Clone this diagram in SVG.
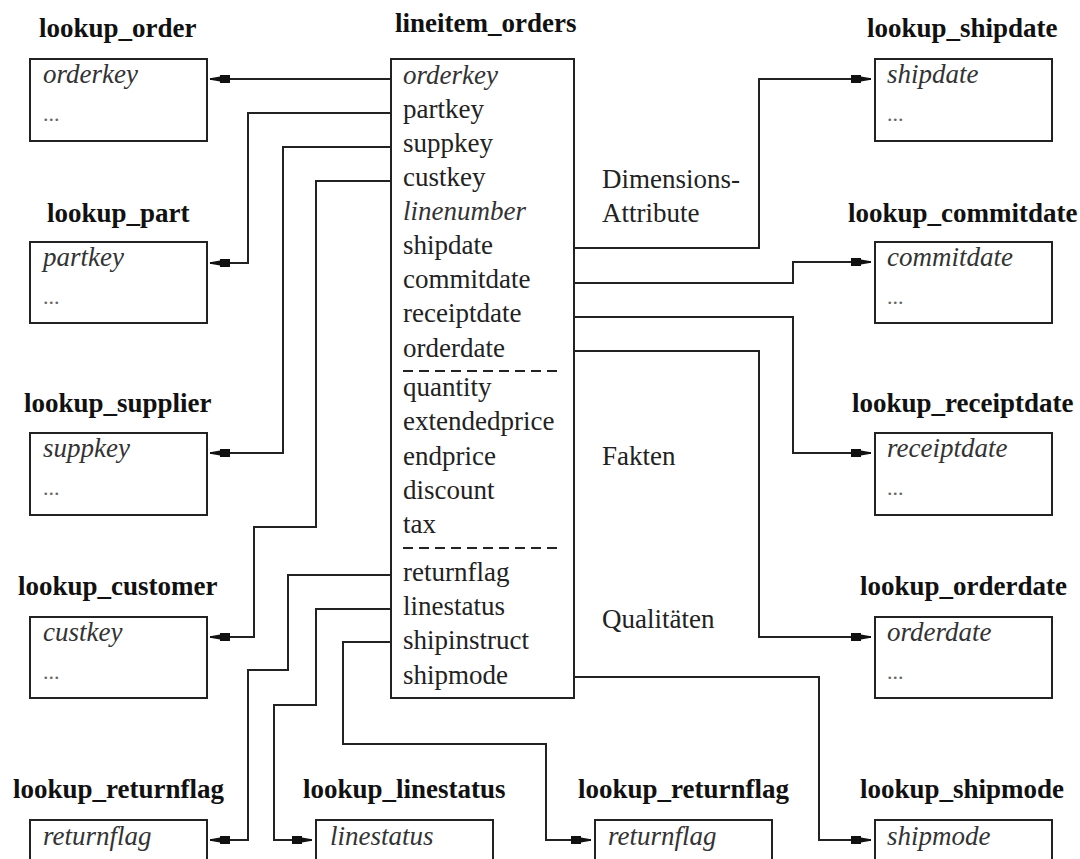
<svg xmlns="http://www.w3.org/2000/svg" width="1080" height="859" viewBox="0 0 1080 859">
<style>
.t{font-family:"Liberation Serif","Times New Roman",serif;font-size:27px;font-weight:bold;fill:#111}
.r{font-family:"Liberation Serif","Times New Roman",serif;font-size:27px;fill:#222}
.i{font-family:"Liberation Serif","Times New Roman",serif;font-size:27px;font-style:italic;fill:#333}
.d{font-family:"Liberation Serif","Times New Roman",serif;font-size:22px;fill:#666}
.box{fill:#fff;stroke:#222;stroke-width:2}
.c{fill:none;stroke:#222;stroke-width:2;marker-end:url(#ah)}
.dash{stroke:#222;stroke-width:2;stroke-dasharray:10 6}
</style>
<defs>
<marker id="ah" markerUnits="userSpaceOnUse" viewBox="-22 -6 24 12" refX="0" refY="0" markerWidth="24" markerHeight="12" orient="auto">
<path d="M-20,-4 L-10,-4 L-10,-2.5 L0,-0.8 L0,0.8 L-10,2.5 L-10,4 L-20,4 Z" fill="#111"/>
</marker>
</defs>
<rect width="1080" height="859" fill="#fff"/>

<g id="connectors">
<path class="c" d="M390,79 H210"/>
<path class="c" d="M390,113 H248 V263 H210"/>
<path class="c" d="M390,147 H283 V453 H210"/>
<path class="c" d="M390,181 H316 V527 H254 V637 H210"/>
<path class="c" d="M575,248 H759 V79 H871"/>
<path class="c" d="M575,283 H793 V262 H871"/>
<path class="c" d="M575,317 H793 V453 H871"/>
<path class="c" d="M575,351 H759 V637 H871"/>
<path class="c" d="M390,575 H288 V670 H248 V840 H210"/>
<path class="c" d="M390,609 H316 V705 H274 V840 H312"/>
<path class="c" d="M390,642 H343 V744 H546 V840 H591"/>
<path class="c" d="M575,677 H819 V840 H871"/>
</g>

<g id="lineitem_orders">
<text class="t" x="395" y="32">lineitem_orders</text>
<rect class="box" x="391" y="59" width="183" height="639"/>
<text class="i" x="403" y="84">orderkey</text>
<text class="r" x="403" y="118">partkey</text>
<text class="r" x="403" y="152">suppkey</text>
<text class="r" x="403" y="186">custkey</text>
<text class="i" x="403" y="220">linenumber</text>
<text class="r" x="403" y="254">shipdate</text>
<text class="r" x="403" y="288">commitdate</text>
<text class="r" x="403" y="322">receiptdate</text>
<text class="r" x="403" y="357">orderdate</text>
<line class="dash" x1="403" y1="371" x2="562" y2="371"/>
<text class="r" x="403" y="396">quantity</text>
<text class="r" x="403" y="430">extendedprice</text>
<text class="r" x="403" y="465">endprice</text>
<text class="r" x="403" y="499">discount</text>
<text class="r" x="403" y="533">tax</text>
<line class="dash" x1="403" y1="548" x2="562" y2="548"/>
<text class="r" x="403" y="581">returnflag</text>
<text class="r" x="403" y="615">linestatus</text>
<text class="r" x="403" y="649">shipinstruct</text>
<text class="r" x="403" y="684">shipmode</text>
</g>

<g id="labels">
<text class="r" x="602" y="188">Dimensions-</text>
<text class="r" x="602" y="222">Attribute</text>
<text class="r" x="602" y="465">Fakten</text>
<text class="r" x="602" y="628">Qualitäten</text>
</g>

<g id="lookup_order">
<text class="t" x="39" y="37">lookup_order</text>
<rect class="box" x="30" y="59" width="177" height="82"/>
<text class="i" x="43" y="83">orderkey</text>
<text class="d" x="43" y="121">...</text>
</g>
<g id="lookup_part">
<text class="t" x="47" y="222">lookup_part</text>
<rect class="box" x="30" y="242" width="177" height="81"/>
<text class="i" x="43" y="266">partkey</text>
<text class="d" x="43" y="304">...</text>
</g>
<g id="lookup_supplier">
<text class="t" x="24" y="412">lookup_supplier</text>
<rect class="box" x="30" y="433" width="177" height="82"/>
<text class="i" x="43" y="457">suppkey</text>
<text class="d" x="43" y="495">...</text>
</g>
<g id="lookup_customer">
<text class="t" x="18" y="595">lookup_customer</text>
<rect class="box" x="30" y="617" width="177" height="81"/>
<text class="i" x="43" y="641">custkey</text>
<text class="d" x="43" y="679">...</text>
</g>
<g id="lookup_returnflag_1">
<text class="t" x="13" y="798">lookup_returnflag</text>
<rect class="box" x="30" y="820" width="177" height="82"/>
<text class="i" x="43" y="845">returnflag</text>
</g>
<g id="lookup_linestatus">
<text class="t" x="303" y="798">lookup_linestatus</text>
<rect class="box" x="316" y="820" width="177" height="82"/>
<text class="i" x="330" y="845">linestatus</text>
</g>
<g id="lookup_returnflag_2">
<text class="t" x="578" y="798">lookup_returnflag</text>
<rect class="box" x="595" y="820" width="177" height="82"/>
<text class="i" x="608" y="845">returnflag</text>
</g>
<g id="lookup_shipmode">
<text class="t" x="860" y="798">lookup_shipmode</text>
<rect class="box" x="875" y="820" width="177" height="82"/>
<text class="i" x="887" y="845">shipmode</text>
</g>
<g id="lookup_shipdate">
<text class="t" x="867" y="37">lookup_shipdate</text>
<rect class="box" x="875" y="59" width="177" height="82"/>
<text class="i" x="887" y="83">shipdate</text>
<text class="d" x="887" y="121">...</text>
</g>
<g id="lookup_commitdate">
<text class="t" x="848" y="222">lookup_commitdate</text>
<rect class="box" x="875" y="242" width="177" height="81"/>
<text class="i" x="887" y="266">commitdate</text>
<text class="d" x="887" y="304">...</text>
</g>
<g id="lookup_receiptdate">
<text class="t" x="852" y="412">lookup_receiptdate</text>
<rect class="box" x="875" y="433" width="177" height="82"/>
<text class="i" x="887" y="457">receiptdate</text>
<text class="d" x="887" y="495">...</text>
</g>
<g id="lookup_orderdate">
<text class="t" x="860" y="595">lookup_orderdate</text>
<rect class="box" x="875" y="617" width="177" height="81"/>
<text class="i" x="887" y="641">orderdate</text>
<text class="d" x="887" y="679">...</text>
</g>
</svg>
